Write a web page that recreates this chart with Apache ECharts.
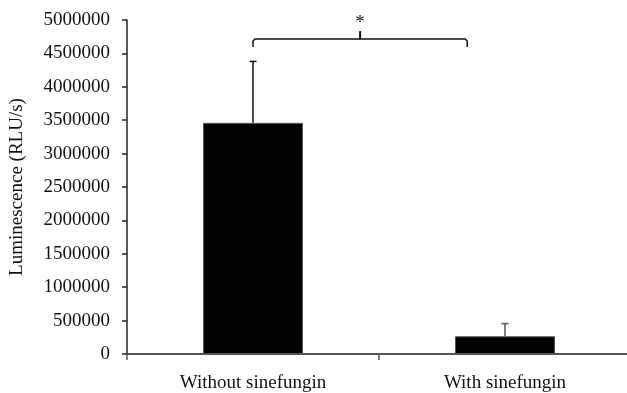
<!DOCTYPE html>
<html>
<head>
<meta charset="utf-8">
<script src="https://cdn.jsdelivr.net/npm/echarts@6/dist/echarts.min.js"></script>
<style>
  html, body { margin: 0; padding: 0; background: #fff; }
  #chart { width: 627px; height: 393px; }
</style>
</head>
<body>
<div id="chart"></div>
<script>
// values
const categories = ['Without sinefungin', 'With sinefungin'];
const means = [3460000, 265000];
const upperErrors = [920000, 190000];
// significance bracket: ends in category units, height in RLU/s
const bracketEnds = [0, 0.85];
const bracketLevel = 4715000;
const bracketLabel = '*';

const chart = echarts.init(document.getElementById('chart'));
const font = '"Liberation Serif", "DejaVu Serif", serif';

const option = {
    animation: false,
    grid: { left: 127, top: 20, bottom: 39, right: -4, outerBoundsMode: 'none', containLabel: false },
    xAxis: {
        type: 'category',
        data: categories,
        axisLine: { lineStyle: { color: '#555', width: 2 } },
        axisTick: { show: true, length: 6, lineStyle: { color: '#555', width: 1.5 } },
        axisLabel: { color: '#111', fontFamily: font, fontSize: 19, margin: 20 }
    },
    yAxis: {
        type: 'value',
        min: 0,
        max: 5000000,
        interval: 500000,
        name: 'Luminescence (RLU/s)',
        nameLocation: 'middle',
        nameGap: 100,
        nameTextStyle: { color: '#111', fontFamily: font, fontSize: 19 },
        axisLine: { show: true, lineStyle: { color: '#222', width: 1.5 } },
        axisTick: { show: true, length: 5, lineStyle: { color: '#222', width: 1.5 } },
        axisLabel: {
            color: '#111', fontFamily: font, fontSize: 19, margin: 17,
            formatter: (v) => String(v)
        },
        splitLine: { show: false }
    },
    series: [
        {
            type: 'bar',
            data: means,
            barWidth: 100,
            itemStyle: { color: '#030303', borderColor: '#555', borderWidth: 1 }
        },
        {
            type: 'custom',
            clip: false,
            data: means.map((m, i) => [i, m, m + upperErrors[i]]),
            renderItem: (params, api) => {
                const base = api.coord([api.value(0), api.value(1)]);
                const top = api.coord([api.value(0), api.value(2)]);
                const c = params.dataIndex === 0 ? '#111' : '#555';
                return {
                    type: 'group',
                    children: [
                        { type: 'line', shape: { x1: base[0], y1: base[1], x2: top[0], y2: top[1] }, style: { stroke: c, lineWidth: 1.5 } },
                        { type: 'line', shape: { x1: top[0] - 3.5, y1: top[1], x2: top[0] + 3.5, y2: top[1] }, style: { stroke: c, lineWidth: 1.5 } }
                    ]
                };
            }
        },
        {
            type: 'custom',
            clip: false,
            data: [[0, bracketLevel]],
            renderItem: (params, api) => {
                const p0 = api.coord([0, bracketLevel]);
                const p1 = api.coord([1, bracketLevel]);
                const xl = p0[0] + (p1[0] - p0[0]) * bracketEnds[0];
                const xr = p0[0] + (p1[0] - p0[0]) * bracketEnds[1];
                const y = p0[1];
                const xm = (xl + xr) / 2;
                const s = { stroke: '#111', lineWidth: 1.5, fill: null };
                return {
                    type: 'group',
                    children: [
                        { type: 'polyline', shape: { points: [[xl, y + 8], [xl, y + 2], [xl + 2, y], [xr - 2, y], [xr, y + 2], [xr, y + 8]] }, style: s },
                        { type: 'line', shape: { x1: xm, y1: y, x2: xm, y2: y - 8 }, style: { stroke: '#111', lineWidth: 2 } },
                        { type: 'text', style: { text: bracketLabel, x: xm, y: y - 7, align: 'center', verticalAlign: 'bottom', fontFamily: font, fontSize: 19, fill: '#111' } }
                    ]
                };
            }
        }
    ]
};
chart.setOption(option);
</script>
</body>
</html>
